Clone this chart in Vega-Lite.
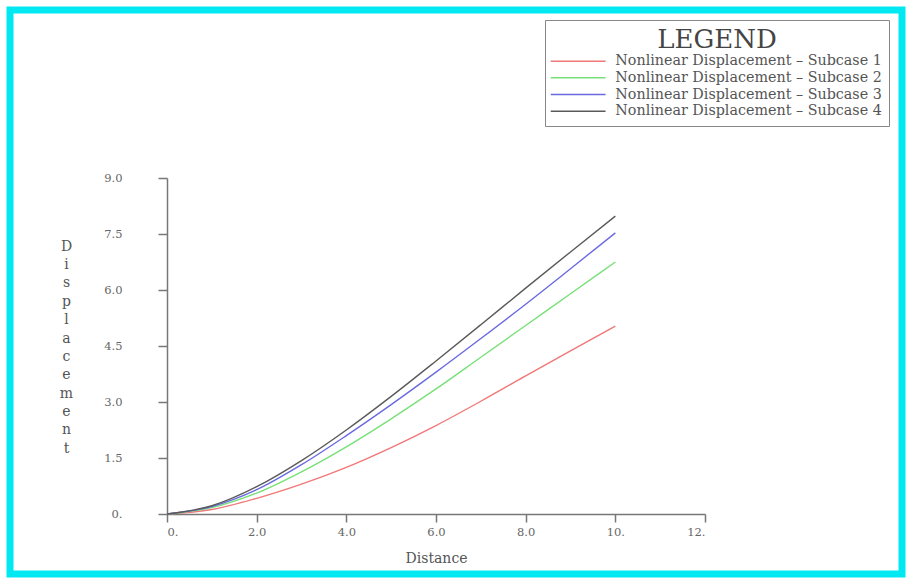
{
  "$schema": "https://vega.github.io/schema/vega-lite/v6.json",
  "width": 892,
  "height": 564,
  "autosize": {"type": "none"},
  "padding": {"left": 10, "top": 10, "right": 4, "bottom": 5},
  "background": "white",
  "config": {
    "view": {"stroke": "#00E8F2", "strokeWidth": 7, "fill": "white"},
    "axis": {
      "grid": false,
      "domainColor": "#777777",
      "domainWidth": 1.5,
      "tickColor": "#777777",
      "tickWidth": 1.5,
      "tickSize": 8,
      "labelFont": "DejaVu Serif",
      "labelFontSize": 11.5,
      "labelColor": "#666666",
      "titleFont": "DejaVu Serif",
      "titleFontSize": 14,
      "titleFontWeight": "normal",
      "titleColor": "#555555"
    }
  },
  "data": {
    "values": [
      {"d": 0, "v": 0, "s": "Nonlinear Displacement – Subcase 1"},
      {"d": 1, "v": 0.12, "s": "Nonlinear Displacement – Subcase 1"},
      {"d": 2, "v": 0.42, "s": "Nonlinear Displacement – Subcase 1"},
      {"d": 3, "v": 0.8, "s": "Nonlinear Displacement – Subcase 1"},
      {"d": 4, "v": 1.25, "s": "Nonlinear Displacement – Subcase 1"},
      {"d": 5, "v": 1.78, "s": "Nonlinear Displacement – Subcase 1"},
      {"d": 6, "v": 2.37, "s": "Nonlinear Displacement – Subcase 1"},
      {"d": 7, "v": 3.02, "s": "Nonlinear Displacement – Subcase 1"},
      {"d": 8, "v": 3.7, "s": "Nonlinear Displacement – Subcase 1"},
      {"d": 9, "v": 4.37, "s": "Nonlinear Displacement – Subcase 1"},
      {"d": 10, "v": 5.03, "s": "Nonlinear Displacement – Subcase 1"},
      {"d": 0, "v": 0, "s": "Nonlinear Displacement – Subcase 2"},
      {"d": 1, "v": 0.17, "s": "Nonlinear Displacement – Subcase 2"},
      {"d": 2, "v": 0.56, "s": "Nonlinear Displacement – Subcase 2"},
      {"d": 3, "v": 1.13, "s": "Nonlinear Displacement – Subcase 2"},
      {"d": 4, "v": 1.8, "s": "Nonlinear Displacement – Subcase 2"},
      {"d": 5, "v": 2.55, "s": "Nonlinear Displacement – Subcase 2"},
      {"d": 6, "v": 3.35, "s": "Nonlinear Displacement – Subcase 2"},
      {"d": 7, "v": 4.2, "s": "Nonlinear Displacement – Subcase 2"},
      {"d": 8, "v": 5.05, "s": "Nonlinear Displacement – Subcase 2"},
      {"d": 9, "v": 5.9, "s": "Nonlinear Displacement – Subcase 2"},
      {"d": 10, "v": 6.75, "s": "Nonlinear Displacement – Subcase 2"},
      {"d": 0, "v": 0, "s": "Nonlinear Displacement – Subcase 3"},
      {"d": 1, "v": 0.2, "s": "Nonlinear Displacement – Subcase 3"},
      {"d": 2, "v": 0.65, "s": "Nonlinear Displacement – Subcase 3"},
      {"d": 3, "v": 1.32, "s": "Nonlinear Displacement – Subcase 3"},
      {"d": 4, "v": 2.1, "s": "Nonlinear Displacement – Subcase 3"},
      {"d": 5, "v": 2.93, "s": "Nonlinear Displacement – Subcase 3"},
      {"d": 6, "v": 3.8, "s": "Nonlinear Displacement – Subcase 3"},
      {"d": 7, "v": 4.7, "s": "Nonlinear Displacement – Subcase 3"},
      {"d": 8, "v": 5.62, "s": "Nonlinear Displacement – Subcase 3"},
      {"d": 9, "v": 6.57, "s": "Nonlinear Displacement – Subcase 3"},
      {"d": 10, "v": 7.53, "s": "Nonlinear Displacement – Subcase 3"},
      {"d": 0, "v": 0, "s": "Nonlinear Displacement – Subcase 4"},
      {"d": 1, "v": 0.22, "s": "Nonlinear Displacement – Subcase 4"},
      {"d": 2, "v": 0.73, "s": "Nonlinear Displacement – Subcase 4"},
      {"d": 3, "v": 1.43, "s": "Nonlinear Displacement – Subcase 4"},
      {"d": 4, "v": 2.25, "s": "Nonlinear Displacement – Subcase 4"},
      {"d": 5, "v": 3.15, "s": "Nonlinear Displacement – Subcase 4"},
      {"d": 6, "v": 4.1, "s": "Nonlinear Displacement – Subcase 4"},
      {"d": 7, "v": 5.07, "s": "Nonlinear Displacement – Subcase 4"},
      {"d": 8, "v": 6.05, "s": "Nonlinear Displacement – Subcase 4"},
      {"d": 9, "v": 7.02, "s": "Nonlinear Displacement – Subcase 4"},
      {"d": 10, "v": 7.98, "s": "Nonlinear Displacement – Subcase 4"}
    ]
  },
  "mark": {"type": "line", "interpolate": "monotone", "strokeWidth": 1.4},
  "encoding": {
    "x": {
      "field": "d",
      "type": "quantitative",
      "scale": {"domain": [0, 12], "range": [157, 695], "nice": false, "zero": false},
      "axis": {
        "title": "Distance",
        "values": [0, 2, 4, 6, 8, 10, 12],
        "labelExpr": "datum.value == 0 ? '0.' : (datum.value >= 10 ? datum.value + '.' : format(datum.value, '.1f'))",
        "offset": -60,
        "labelPadding": 4,
        "titlePadding": 14
      }
    },
    "y": {
      "field": "v",
      "type": "quantitative",
      "scale": {"domain": [0, 9], "range": [504, 168], "nice": false, "zero": false},
      "axis": {
        "title": ["D", "i", "s", "p", "l", "a", "c", "e", "m", "e", "n", "t"],
        "values": [0, 1.5, 3, 4.5, 6, 7.5, 9],
        "labelExpr": "datum.value == 0 ? '0.' : format(datum.value, '.1f')",
        "offset": -157,
        "tickSize": 9,
        "labelPadding": 36,
        "titleAngle": 0,
        "titleAlign": "center",
        "titleBaseline": "top",
        "titleLineHeight": 18.4,
        "titleX": -101,
        "titleY": 229
      }
    },
    "color": {
      "field": "s",
      "type": "nominal",
      "scale": {
        "domain": [
          "Nonlinear Displacement – Subcase 1",
          "Nonlinear Displacement – Subcase 2",
          "Nonlinear Displacement – Subcase 3",
          "Nonlinear Displacement – Subcase 4"
        ],
        "range": ["#F07878", "#78E078", "#6A6AE0", "#5A5A5A"]
      },
      "legend": {
        "orient": "none",
        "legendX": 535,
        "legendY": 10,
        "title": "LEGEND",
        "titleFont": "DejaVu Serif",
        "titleFontSize": 26,
        "titleFontWeight": "normal",
        "titleColor": "#444444",
        "titleAnchor": "middle",
        "titlePadding": 1,
        "symbolType": "M-8,0H8",
        "symbolSize": 47,
        "symbolStrokeWidth": 1.5,
        "symbolOffset": 19,
        "labelFont": "DejaVu Serif",
        "labelFontSize": 14.3,
        "labelColor": "#555555",
        "labelLimit": 400,
        "labelOffset": 30,
        "strokeColor": "#888888",
        "padding": 7,
        "rowPadding": 1.7,
        "fillColor": "white"
      }
    }
  }
}
